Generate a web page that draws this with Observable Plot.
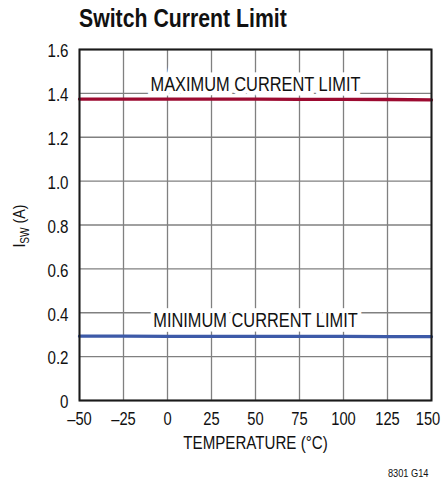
<!DOCTYPE html>
<html>
<head>
<meta charset="utf-8">
<script src="https://cdn.jsdelivr.net/npm/d3@7"></script>
<script src="https://cdn.jsdelivr.net/npm/@observablehq/plot@0.6"></script>
<style>
  body { margin: 0; background: #fff; }
  #wrap { width: 444px; height: 484px; position: relative; overflow: hidden;
          font-family: "Liberation Sans", Arial, sans-serif; }
  #title { height: 36px; padding-left: 79px; padding-top: 1px; box-sizing: border-box;
           font-size: 25px; font-weight: bold; line-height: 35px; color: #111; }
  #title span { display: inline-block; transform: scaleX(0.85); transform-origin: left center; white-space: nowrap; }
</style>
</head>
<body>
<div id="wrap">
  <div id="title"><span>Switch Current Limit</span></div>
  <div id="chart"></div>
</div>
<script>
const temperatures = [-50, -25, 0, 25, 50, 75, 100, 125, 150];
const maxLimit = [1.374, 1.374, 1.374, 1.374, 1.374, 1.373, 1.373, 1.372, 1.370];
const minLimit = [0.293, 0.293, 0.292, 0.292, 0.292, 0.292, 0.292, 0.291, 0.291];
const xTicks = [-50, -25, 0, 25, 50, 75, 100, 125, 150];
const yTicks = [0, 0.2, 0.4, 0.6, 0.8, 1.0, 1.2, 1.4, 1.6];
const seriesLabels = ["MAXIMUM CURRENT LIMIT", "MINIMUM CURRENT LIMIT"];
const labelTemps = [50, 50];
const labelValues = [1.44, 0.365];
const xLabel = "TEMPERATURE (°C)";
const footer = "8301 G14";

const maxData = temperatures.map((t, i) => ({t, v: maxLimit[i]}));
const minData = temperatures.map((t, i) => ({t, v: minLimit[i]}));
const labelData = seriesLabels.map((text, i) => ({t: labelTemps[i], v: labelValues[i], text}));

const font = '"Liberation Sans", Arial, sans-serif';
const condense = 0.84;

const plot = Plot.plot({
  width: 444,
  height: 448,
  marginLeft: 79,
  marginRight: 13,
  marginTop: 13,
  marginBottom: 84,
  style: {fontFamily: font, fontSize: "18px", color: "#111", background: "#fff", overflow: "visible"},
  x: {domain: [-50, 150], ticks: xTicks},
  y: {domain: [0, 1.6], ticks: yTicks},
  marks: [
    Plot.gridX(xTicks, {stroke: "#808080", strokeOpacity: 1, strokeWidth: 1.3}),
    Plot.gridY(yTicks, {stroke: "#808080", strokeOpacity: 1, strokeWidth: 1.3}),
    Plot.text(labelData, {x: "t", y: "v", text: "text", fill: "#111", stroke: "white",
      strokeWidth: 9, strokeLinejoin: "miter", fontSize: 19.5}),
    Plot.line(maxData, {x: "t", y: "v", stroke: "#9c0a30", strokeWidth: 3.3}),
    Plot.line(minData, {x: "t", y: "v", stroke: "#3d5aa8", strokeWidth: 3.3}),
    Plot.frame({stroke: "#1a1a1a", strokeWidth: 2}),
    Plot.axisX(xTicks, {tickSize: 0, tickPadding: 12, label: null, fontSize: 17.5,
      tickFormat: d => d < 0 ? "\u2013" + Math.abs(d) : String(d)}),
    Plot.axisY(yTicks, {tickSize: 0, tickPadding: 11, label: null, fontSize: 18, dy: 2,
      tickFormat: d => d === 0 ? "0" : d.toFixed(1)}),
    Plot.text([xLabel], {frameAnchor: "bottom", dy: 48, fontSize: 18, fill: "#111"}),
    Plot.text([footer], {frameAnchor: "bottom-right", dx: -3, dy: 76, textAnchor: "end", fontSize: 11, fill: "#111"})
  ]
});
document.getElementById("chart").appendChild(plot);

// y-axis label with subscript
const svg = d3.select(plot);
const yl = svg.append("text")
  .attr("transform", "translate(25,190) rotate(-90)")
  .attr("text-anchor", "middle")
  .attr("font-size", 17)
  .attr("fill", "#111")
  .attr("font-family", font);
yl.append("tspan").text("I");
yl.append("tspan").attr("font-size", 12).attr("dy", 4).text("SW");
yl.append("tspan").attr("dy", -4).text(" (A)");

// condense all text to mimic a condensed typeface
svg.selectAll("text").each(function() {
  const len = this.getComputedTextLength();
  if (len > 0) {
    this.setAttribute("textLength", (len * condense).toFixed(2));
    this.setAttribute("lengthAdjust", "spacingAndGlyphs");
  }
  // keep the last x tick label ("150") inside the right edge
  if (this.textContent === "150") {
    this.setAttribute("text-anchor", "end");
    this.setAttribute("dx", ((len * condense) / 2 - 3.5).toFixed(2));
  }
});
</script>
</body>
</html>
